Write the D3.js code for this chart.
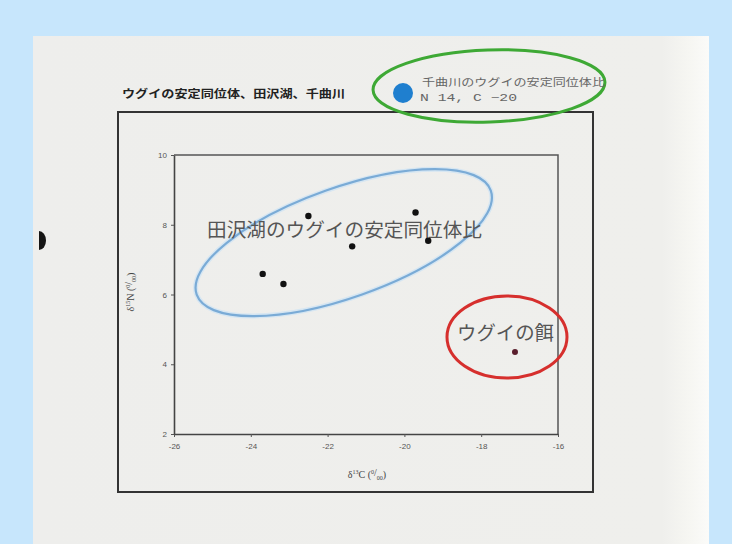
<!DOCTYPE html>
<html>
<head>
<meta charset="utf-8">
<script src="https://cdn.jsdelivr.net/npm/d3@7"></script>
<style>
  html, body { margin: 0; padding: 0; background: #c7e6fc; }
  svg { display: block; font-family: "Noto Sans CJK JP", "Noto Sans", sans-serif; }
</style>
</head>
<body>
<svg id="chart" width="732" height="544"></svg>
<script>
// δ13C / δ15N of ugui (Japanese dace) from Lake Tazawa, plus their feed
const lakeCarbon   = [-23.69, -23.15, -22.5, -21.36, -19.71, -19.38];
const lakeNitrogen = [6.59, 6.30, 8.25, 7.38, 8.35, 7.54];
const feedCarbon   = [-17.12];
const feedNitrogen = [4.35];
const xTicks = [-26, -24, -22, -20, -18, -16];
const yTicks = [2, 4, 6, 8, 10];
const riverLabel = "千曲川のウグイの安定同位体比";
const riverValues = "N  14, C  −20";
const titleText = "ウグイの安定同位体、田沢湖、千曲川";
const lakeLabel = "田沢湖のウグイの安定同位体比";
const feedLabel = "ウグイの餌";

const svg = d3.select("#chart");

// sheet of paper, a little brighter along its right edge
const defs = svg.append("defs");
const grad = defs.append("linearGradient").attr("id", "paper")
  .attr("x1", "0").attr("x2", "1").attr("y1", "0").attr("y2", "0");
grad.append("stop").attr("offset", "0").attr("stop-color", "#eeeeec");
grad.append("stop").attr("offset", "0.93").attr("stop-color", "#efefec");
grad.append("stop").attr("offset", "0.97").attr("stop-color", "#f6f6f2");
grad.append("stop").attr("offset", "1").attr("stop-color", "#fbfbf9");

svg.append("rect").attr("width", 732).attr("height", 544).attr("fill", "#c7e6fc");
svg.append("rect").attr("x", 33).attr("y", 36).attr("width", 676).attr("height", 508)
  .attr("fill", "url(#paper)");

// punch-hole shadow on the left margin
svg.append("path").attr("d", "M39,231 A7,9.5 0 0 1 39,250 Z").attr("fill", "#151515");

// title
svg.append("text").attr("x", 122).attr("y", 98)
  .attr("font-size", 11).attr("font-weight", "bold").attr("fill", "#222")
  .attr("textLength", 223).attr("lengthAdjust", "spacingAndGlyphs")
  .text(titleText);

// outer frame
svg.append("rect").attr("x", 118).attr("y", 112).attr("width", 475).attr("height", 380)
  .attr("fill", "none").attr("stroke", "#333").attr("stroke-width", 2);

// scales
const x = d3.scaleLinear().domain([-26, -16]).range([174, 558]);
const y = d3.scaleLinear().domain([2, 10]).range([434, 155]);

// plot box top/right
svg.append("path")
  .attr("d", `M${x(-26)},${y(10)} H${x(-16)} V${y(2)}`)
  .attr("fill", "none").attr("stroke", "#555").attr("stroke-width", 1.5);

const xAxis = svg.append("g").attr("transform", `translate(0,${y(2)})`)
  .call(d3.axisBottom(x).tickValues(xTicks).tickSize(3).tickSizeOuter(0)
    .tickFormat(d => String(d)));
const yAxis = svg.append("g").attr("transform", `translate(${x(-26)},0)`)
  .call(d3.axisLeft(y).tickValues(yTicks).tickSize(3).tickSizeOuter(0)
    .tickFormat(d => String(d)));
[xAxis, yAxis].forEach(g => {
  g.attr("font-family", "'Liberation Sans', Arial, sans-serif").attr("font-size", 8);
  g.select(".domain").attr("stroke", "#444").attr("stroke-width", 1.6);
  g.selectAll(".tick line").attr("stroke", "#555");
  g.selectAll(".tick text").attr("fill", "#555");
});
xAxis.selectAll(".tick text").attr("dy", "1.1em");
yAxis.selectAll(".tick text").attr("dx", "-1");

// axis titles
function isotopeLabel(sel, mass, element) {
  sel.append("tspan").text("δ");
  sel.append("tspan").attr("font-size", 6).attr("dy", -4).text(mass);
  sel.append("tspan").attr("dy", 4).text(element + " (");
  sel.append("tspan").attr("font-size", 6).attr("dy", -4).text("0");
  sel.append("tspan").attr("dy", 2).text("/");
  sel.append("tspan").attr("font-size", 6).attr("dy", 4).text("00");
  sel.append("tspan").attr("dy", -2).text(")");
}
svg.append("text").attr("x", 367).attr("y", 478).attr("text-anchor", "middle")
  .attr("font-size", 10).attr("fill", "#444")
  .attr("font-family", "'Liberation Serif', serif")
  .call(isotopeLabel, "13", "C");
svg.append("text").attr("transform", "translate(134,292) rotate(-90)")
  .attr("text-anchor", "middle").attr("font-size", 10).attr("fill", "#444")
  .attr("font-family", "'Liberation Serif', serif")
  .call(isotopeLabel, "15", "N");

// hand-drawn grouping of the lake fish
const lakeCx = d3.mean(lakeCarbon), lakeCy = d3.mean(lakeNitrogen);
const ell = svg.append("g")
  .attr("transform", `translate(${x(lakeCx) + 2},${y(lakeCy) - 3}) rotate(-19.5)`);
ell.append("ellipse").attr("rx", 156).attr("ry", 55)
  .attr("fill", "none").attr("stroke", "#d6e6f2").attr("stroke-width", 5);
ell.append("ellipse").attr("rx", 156).attr("ry", 55)
  .attr("fill", "none").attr("stroke", "#7aabd6").attr("stroke-width", 2.2);

svg.append("text").attr("x", 207).attr("y", 237)
  .attr("font-size", 19).attr("fill", "#555")
  .attr("textLength", 275).attr("lengthAdjust", "spacingAndGlyphs")
  .text(lakeLabel);

// lake points
svg.append("g").selectAll("circle").data(lakeCarbon).join("circle")
  .attr("cx", d => x(d)).attr("cy", (d, i) => y(lakeNitrogen[i]))
  .attr("r", 3.2).attr("fill", "#111");

// feed group
svg.append("ellipse")
  .attr("cx", x(feedCarbon[0]) - 8).attr("cy", y(feedNitrogen[0]) - 15)
  .attr("rx", 60).attr("ry", 41)
  .attr("fill", "none").attr("stroke", "#d62f2d").attr("stroke-width", 3);
svg.append("text").attr("x", 457).attr("y", 340)
  .attr("font-size", 19).attr("fill", "#555")
  .attr("textLength", 97).attr("lengthAdjust", "spacingAndGlyphs")
  .text(feedLabel);
svg.append("g").selectAll("circle").data(feedCarbon).join("circle")
  .attr("cx", d => x(d)).attr("cy", (d, i) => y(feedNitrogen[i]))
  .attr("r", 3).attr("fill", "#5a1e2c");

// Chikuma River note, circled in green
svg.append("ellipse").attr("cx", 489).attr("cy", 86).attr("rx", 116).attr("ry", 36)
  .attr("transform", "rotate(-2,489,86)")
  .attr("fill", "none").attr("stroke", "#3ea935").attr("stroke-width", 3);
svg.append("circle").attr("cx", 403).attr("cy", 93).attr("r", 10).attr("fill", "#1f7fcf");
svg.append("text").attr("x", 422).attr("y", 86)
  .attr("font-size", 10).attr("fill", "#666")
  .attr("textLength", 183).attr("lengthAdjust", "spacingAndGlyphs")
  .text(riverLabel);
svg.append("text").attr("x", 420).attr("y", 101)
  .attr("font-size", 10).attr("fill", "#666")
  .attr("font-family", "'Liberation Mono', monospace")
  .attr("textLength", 97).attr("lengthAdjust", "spacingAndGlyphs")
  .text(riverValues);
</script>
</body>
</html>
